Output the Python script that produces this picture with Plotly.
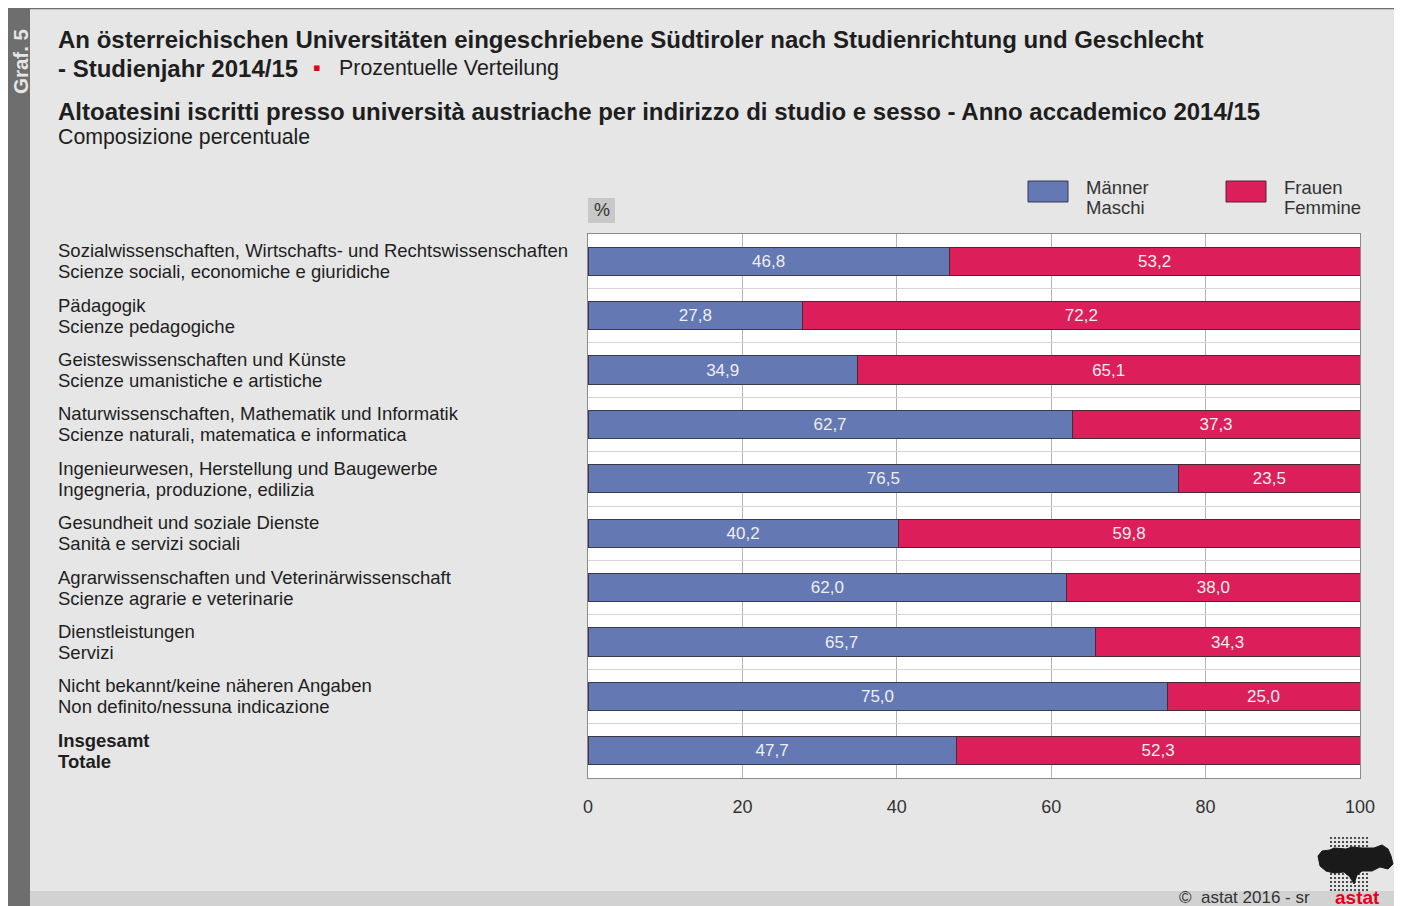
import plotly.graph_objects as go

categories_de = [
    "Sozialwissenschaften, Wirtschafts- und Rechtswissenschaften",
    "Pädagogik",
    "Geisteswissenschaften und Künste",
    "Naturwissenschaften, Mathematik und Informatik",
    "Ingenieurwesen, Herstellung und Baugewerbe",
    "Gesundheit und soziale Dienste",
    "Agrarwissenschaften und Veterinärwissenschaft",
    "Dienstleistungen",
    "Nicht bekannt/keine näheren Angaben",
    "Insgesamt",
]
categories_it = [
    "Scienze sociali, economiche e giuridiche",
    "Scienze pedagogiche",
    "Scienze umanistiche e artistiche",
    "Scienze naturali, matematica e informatica",
    "Ingegneria, produzione, edilizia",
    "Sanità e servizi sociali",
    "Scienze agrarie e veterinarie",
    "Servizi",
    "Non definito/nessuna indicazione",
    "Totale",
]
maenner = [46.8, 27.8, 34.9, 62.7, 76.5, 40.2, 62.0, 65.7, 75.0, 47.7]
frauen = [53.2, 72.2, 65.1, 37.3, 23.5, 59.8, 38.0, 34.3, 25.0, 52.3]
x_ticks = [0, 20, 40, 60, 80, 100]

BLUE = "#6478b4"
RED = "#dc1e5a"
FONT = "Liberation Sans, Arial, sans-serif"
TXT = "#1e1e1e"

W, H = 1402, 906
OFF = 8  # page body margin: screen = figure + 8
# plot area in screen pixels
SL, SR, ST, SB = 588, 1360, 234, 778


def px(x):
    return (x - SL) / (SR - SL)


def py(y):
    return (SB - y) / (SB - ST)


ypos = list(range(len(categories_de)))

fig = go.Figure()
for vals, name, col, lc in [(maenner, "Männer", BLUE, "#3a3a4a"), (frauen, "Frauen", RED, "#4a2a32")]:
    fig.add_trace(go.Bar(
        y=ypos, x=vals, orientation="h", name=name,
        marker=dict(color=col, line=dict(color=lc, width=1)),
        width=0.52, texttemplate="%{x:.1f}", textposition="inside",
        insidetextanchor="middle", textangle=0,
        textfont=dict(family=FONT, size=17, color="#eeeeee"),
    ))


def label(x, y, text, size, color=TXT, xanchor="left", **kw):
    return dict(x=px(x), y=py(y), xref="paper", yref="paper", xanchor=xanchor, yanchor="middle",
                text=text, showarrow=False, font=dict(family=FONT, size=size, color=color), **kw)


annotations = []
n = len(categories_de)
for i, (de, it) in enumerate(zip(categories_de, categories_it)):
    if i == n - 1:
        de, it = f"<b>{de}</b>", f"<b>{it}</b>"
    for t, sh in ((de, 10.5), (it, -10.5)):
        annotations.append(dict(
            x=px(56), y=i, xref="paper", yref="y", text=t, showarrow=False,
            xanchor="left", yanchor="middle", align="left", yshift=sh,
            font=dict(family=FONT, size=18.5, color=TXT),
        ))

annotations += [
    label(56, 40, "<b>An österreichischen Universitäten eingeschriebene Südtiroler nach Studienrichtung und Geschlecht</b>", 24),
    label(56, 68, "<b>- Studienjahr 2014/15</b>", 24),
    label(311, 67, "▪", 22, color="#e3001b", xanchor="left"),
    label(337, 68, "Prozentuelle Verteilung", 21.4),
    label(56, 111, "<b>Altoatesini iscritti presso università austriache per indirizzo di studio e sesso - Anno accademico 2014/15</b>", 24),
    label(56, 137, "Composizione percentuale", 21.3),
    label(20, 62, "<b>Graf. 5</b>", 20.5, color="#e6e6e6", xanchor="center", textangle=-90),
    label(601.5, 210, "%", 18, color="#333333", xanchor="center"),
    label(1084, 187, "Männer", 18.5, color="#333333"),
    label(1084, 208, "Maschi", 18.5, color="#333333"),
    label(1282, 187, "Frauen", 18.5, color="#333333"),
    label(1282, 208, "Femmine", 18.5, color="#333333"),
    label(1312, 897, "©  astat 2016 - sr", 17, color="#333333", xanchor="right"),
    label(1357, 897, "<b>astat</b>", 19, color="#e3001b", xanchor="center"),
]


def rect(x0, y0, x1, y1, fill, line=None, lw=0):
    return dict(type="rect", xref="paper", yref="paper",
                x0=px(x0), x1=px(x1), y0=py(y0), y1=py(y1),
                fillcolor=fill, line=dict(color=line or fill, width=lw), layer="above")


shapes = [
    dict(type="line", xref="paper", yref="paper", x0=px(8), x1=px(W + 20), y0=py(8.5), y1=py(8.5),
         line=dict(color="#6e6e6e", width=1.5)),
    rect(8, 9, 30, H + 20, "#6e6e6e"),
    rect(30, 891, W + 20, H + 20, "#d2d2d2"),
    rect(588, 198, 615, 223, "#c8c8c8"),
    rect(1028, 181, 1068, 202, BLUE, "#3a3a4a", 1),
    rect(1226, 181, 1266, 202, RED, "#4a2a32", 1),
]

# logo: dot grid + map silhouette (decorative)
for gx in range(10):
    for gy in range(14):
        cx, cy = 1331 + gx * 4, 838 + gy * 4
        shapes.append(dict(type="circle", xref="paper", yref="paper",
                           x0=px(cx - 1.1), x1=px(cx + 1.1), y0=py(cy - 1.1), y1=py(cy + 1.1),
                           fillcolor="#2a2a2a", line=dict(width=0), layer="above"))
pts = [(1318, 856), (1322, 851), (1330, 850), (1334, 848), (1346, 849), (1352, 847), (1362, 848),
       (1374, 848), (1382, 845), (1388, 849), (1391, 856), (1393, 864), (1388, 869), (1380, 867),
       (1372, 871), (1362, 871), (1357, 875), (1354, 884), (1350, 877), (1344, 872), (1334, 873),
       (1326, 871), (1320, 866)]
path = "M " + " L ".join(f"{px(x):.5f},{py(y):.5f}" for x, y in pts) + " Z"
shapes.append(dict(type="path", xref="paper", yref="paper", path=path,
                   fillcolor="#1a1a1a", line=dict(color="#1a1a1a", width=1), layer="above"))

fig.update_layout(
    width=W, height=H,
    margin=dict(l=SL - OFF, r=W - (SR - OFF), t=ST - OFF, b=H - (SB - OFF), pad=0),
    paper_bgcolor="#e6e6e6", plot_bgcolor="#ffffff",
    barmode="stack", showlegend=False, separators=",.",
    annotations=annotations, shapes=shapes,
    xaxis=dict(range=[0, 100], tickvals=x_ticks, ticktext=[str(v) for v in x_ticks],
               showgrid=True, gridcolor="#b4b4b4", gridwidth=1,
               showline=True, linecolor="#8a8a8a", linewidth=1, mirror=True,
               ticks="outside", ticklen=12, tickcolor="rgba(0,0,0,0)",
               tickfont=dict(family=FONT, size=18, color="#333333"),
               zeroline=False, fixedrange=True),
    yaxis=dict(range=[n - 0.5, -0.5], tick0=0.5, dtick=1, showticklabels=False,
               showgrid=True, gridcolor="#d4d4d4", gridwidth=1, ticks="",
               showline=True, linecolor="#8a8a8a", linewidth=1, mirror=True,
               zeroline=False, fixedrange=True),
)

fig.write_html("out.html", post_script="document.documentElement.style.overflow='hidden';document.body.style.overflow='hidden';")
